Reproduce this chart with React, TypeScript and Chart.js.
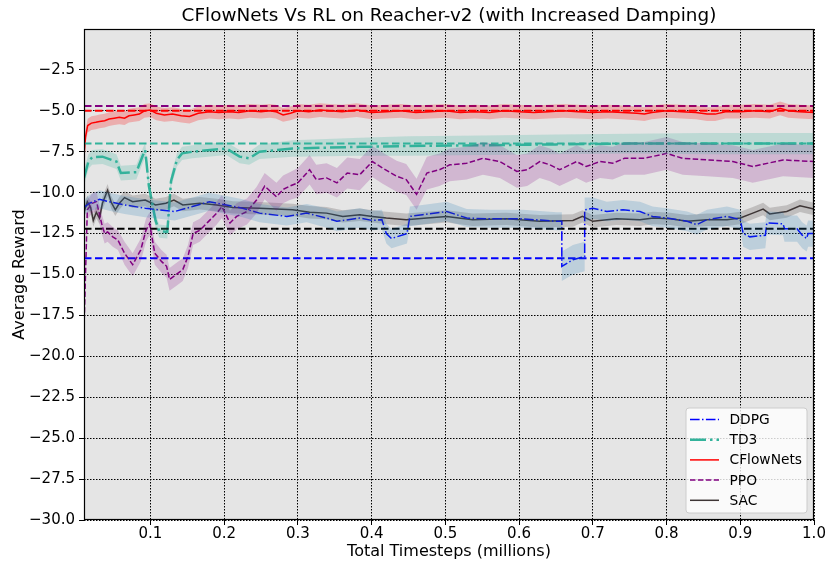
import React, { useEffect, useRef } from "react";
import { Chart, registerables } from "chart.js";

Chart.register(...registerables);

const FONT = "'DejaVu Sans', sans-serif";

const titleText = "CFlowNets Vs RL on Reacher-v2 (with Increased Damping)";
const xTitle = "Total Timesteps (millions)";
const yTitle = "Average Reward";

const xTickValues = [0.1, 0.2, 0.3, 0.4, 0.5, 0.6, 0.7, 0.8, 0.9, 1.0];
const yTickValues = [-30, -27.5, -25, -22.5, -20, -17.5, -15, -12.5, -10, -7.5, -5, -2.5];

// DDPG
const ddpgX = [0.01, 0.017, 0.031, 0.044, 0.065, 0.093, 0.112, 0.133, 0.157, 0.18, 0.203, 0.225, 0.248, 0.285, 0.312, 0.339, 0.353, 0.384, 0.401, 0.414, 0.42, 0.427, 0.448, 0.452, 0.469, 0.502, 0.529, 0.56, 0.605, 0.651, 0.658, 0.658, 0.673, 0.689, 0.689, 0.7, 0.719, 0.741, 0.764, 0.781, 0.8, 0.828, 0.841, 0.855, 0.882, 0.9, 0.904, 0.913, 0.934, 0.936, 0.958, 0.96, 0.977, 0.984, 0.99, 0.992, 1.0];
const ddpgY = [-10.9, -10.65, -10.4, -10.55, -10.75, -10.95, -11.05, -11.15, -10.85, -10.55, -10.75, -10.95, -11.25, -11.45, -11.25, -11.55, -11.75, -11.55, -11.7, -11.65, -12.5, -12.8, -12.5, -11.45, -11.35, -11.15, -11.55, -11.6, -11.6, -11.75, -11.75, -14.5, -14.1, -13.9, -11.05, -10.95, -11.15, -11.05, -11.15, -11.45, -11.55, -11.75, -11.95, -11.65, -11.45, -11.65, -12.5, -12.7, -12.6, -11.85, -11.9, -12.2, -12.2, -12.6, -12.8, -12.5, -12.5];
const ddpgSpread = [0.45, 0.5, 0.55, 0.55, 0.55, 0.55, 0.55, 0.55, 0.55, 0.55, 0.55, 0.55, 0.55, 0.55, 0.55, 0.6, 0.6, 0.6, 0.6, 0.6, 0.6, 0.6, 0.6, 0.6, 0.6, 0.6, 0.55, 0.55, 0.55, 0.55, 0.55, 0.9, 0.9, 0.9, 0.75, 0.65, 0.6, 0.6, 0.6, 0.6, 0.6, 0.6, 0.6, 0.6, 0.6, 0.6, 0.8, 0.8, 0.8, 0.7, 0.7, 0.8, 0.8, 0.8, 0.8, 0.8, 0.8];

// TD3
const td3X = [0.01, 0.016, 0.021, 0.035, 0.054, 0.06, 0.081, 0.09, 0.093, 0.098, 0.107, 0.112, 0.123, 0.128, 0.136, 0.143, 0.157, 0.203, 0.221, 0.234, 0.248, 0.293, 0.384, 0.45, 0.55, 0.65, 0.75, 0.85, 0.95, 1.0];
const td3Y = [-9.1, -8.1, -7.84, -7.8, -8.1, -8.8, -8.75, -7.7, -7.4, -9.6, -11.7, -12.35, -12.4, -9.3, -8.0, -7.6, -7.5, -7.3, -7.8, -7.9, -7.5, -7.3, -7.2, -7.15, -7.1, -7.05, -7.0, -7.0, -7.0, -7.0];
const td3Spread = [0.5, 0.45, 0.45, 0.45, 0.45, 0.45, 0.45, 0.45, 0.45, 0.45, 0.4, 0.4, 0.4, 0.4, 0.4, 0.4, 0.4, 0.4, 0.4, 0.4, 0.45, 0.5, 0.55, 0.6, 0.6, 0.6, 0.6, 0.65, 0.65, 0.65];

// CFlowNets
const cflowX = [0.01, 0.012, 0.015, 0.02, 0.026, 0.031, 0.038, 0.044, 0.051, 0.058, 0.065, 0.071, 0.078, 0.085, 0.092, 0.1, 0.108, 0.119, 0.13, 0.142, 0.153, 0.165, 0.18, 0.193, 0.207, 0.22, 0.235, 0.25, 0.262, 0.27, 0.28, 0.29, 0.3, 0.315, 0.33, 0.343, 0.36, 0.38, 0.4, 0.42, 0.44, 0.46, 0.48, 0.5, 0.52, 0.54, 0.56, 0.58, 0.6, 0.62, 0.64, 0.66, 0.68, 0.7, 0.72, 0.74, 0.76, 0.77, 0.78, 0.8, 0.82, 0.84, 0.855, 0.866, 0.88, 0.9, 0.92, 0.94, 0.954, 0.965, 0.98, 1.0];
const cflowY = [-7.8, -6.6, -5.9, -5.75, -5.7, -5.65, -5.6, -5.5, -5.45, -5.4, -5.45, -5.3, -5.25, -5.2, -5.0, -4.95, -5.15, -5.25, -5.2, -5.3, -5.35, -5.15, -5.05, -5.1, -5.05, -5.1, -5.0, -5.05, -5.0, -5.05, -5.25, -5.15, -5.0, -5.05, -4.95, -5.0, -5.05, -4.95, -5.1, -5.05, -5.0, -5.1, -5.05, -5.0, -5.1, -5.05, -5.1, -5.0, -5.05, -5.1, -5.05, -5.0, -5.05, -5.1, -5.05, -5.1, -5.15, -5.2, -5.1, -5.0, -5.05, -5.1, -5.2, -5.2, -5.05, -5.05, -5.0, -5.05, -4.85, -5.0, -5.05, -5.1];
const cflowSpread = 0.42;

// PPO
const ppoX = [0.01, 0.0145, 0.021, 0.027, 0.034, 0.038, 0.042, 0.049, 0.056, 0.065, 0.076, 0.087, 0.094, 0.099, 0.106, 0.115, 0.122, 0.126, 0.135, 0.144, 0.151, 0.158, 0.167, 0.178, 0.19, 0.197, 0.208, 0.217, 0.231, 0.244, 0.255, 0.271, 0.28, 0.289, 0.3, 0.316, 0.325, 0.339, 0.353, 0.367, 0.384, 0.401, 0.415, 0.434, 0.447, 0.461, 0.475, 0.492, 0.506, 0.529, 0.551, 0.574, 0.597, 0.611, 0.628, 0.642, 0.655, 0.678, 0.691, 0.71, 0.727, 0.743, 0.77, 0.8, 0.822, 0.855, 0.89, 0.917, 0.958, 1.0];
const ppoY = [-18.3, -11.05, -10.65, -10.55, -11.9, -12.5, -12.4, -12.7, -12.9, -13.7, -14.4, -13.5, -12.3, -11.9, -13.7, -14.2, -14.5, -15.3, -15.0, -14.7, -13.9, -12.5, -12.3, -11.8, -11.25, -10.85, -11.85, -11.45, -11.15, -10.45, -9.6, -10.25, -9.8, -9.6, -9.4, -8.6, -9.2, -9.1, -9.4, -8.8, -8.9, -8.1, -8.5, -9.0, -9.2, -10.1, -8.8, -8.6, -8.3, -8.2, -7.9, -8.1, -8.7, -8.6, -8.1, -8.3, -8.6, -8.1, -8.4, -8.1, -8.2, -7.9, -7.9, -7.6, -7.9, -8.0, -8.1, -8.4, -8.0, -8.1];
const ppoSpread = [0.3, 0.6, 0.6, 0.6, 0.6, 0.6, 0.6, 0.6, 0.6, 0.7, 0.7, 0.7, 0.7, 0.7, 0.7, 0.7, 0.7, 0.7, 0.7, 0.7, 0.7, 0.7, 0.7, 0.7, 0.7, 0.7, 0.75, 0.8, 0.8, 0.8, 0.8, 0.85, 0.85, 0.85, 0.9, 0.9, 0.9, 0.9, 0.9, 0.95, 0.95, 0.95, 0.95, 0.95, 0.95, 0.95, 1.0, 1.0, 1.0, 1.0, 1.0, 1.0, 1.0, 1.0, 1.0, 1.0, 1.0, 1.0, 1.0, 1.0, 1.0, 1.0, 1.0, 1.0, 1.0, 1.0, 1.0, 1.0, 1.0, 1.0];

// SAC
const sacX = [0.01, 0.0145, 0.019, 0.0226, 0.0267, 0.031, 0.035, 0.042, 0.047, 0.0525, 0.058, 0.065, 0.076, 0.093, 0.107, 0.121, 0.132, 0.144, 0.167, 0.19, 0.212, 0.248, 0.293, 0.316, 0.339, 0.361, 0.384, 0.401, 0.42, 0.447, 0.475, 0.502, 0.537, 0.583, 0.628, 0.673, 0.686, 0.7, 0.732, 0.764, 0.782, 0.805, 0.828, 0.855, 0.882, 0.9, 0.917, 0.931, 0.94, 0.963, 0.981, 1.0];
const sacY = [-11.2, -10.55, -10.9, -11.7, -11.2, -11.55, -10.65, -9.85, -10.6, -11.05, -10.65, -10.3, -10.55, -10.45, -10.75, -10.65, -10.45, -10.75, -10.65, -10.75, -10.9, -10.95, -11.05, -11.2, -11.25, -11.45, -11.35, -11.45, -11.55, -11.65, -11.55, -11.45, -11.65, -11.6, -11.75, -11.7, -11.45, -11.75, -11.6, -11.65, -11.55, -11.6, -11.75, -11.65, -11.65, -11.55, -11.25, -11.0, -11.3, -11.15, -10.8, -11.0];
const sacSpread = 0.38;

// Horizontal reference levels
const refLevels = [-4.7, -5.0, -7.0, -12.2, -14.0];
const refColors = ["#800080", "#ff0000", "#33b39b", "#000000", "#0000ff"];

const pts = (xs: number[], ys: number[], off: (i: number) => number = () => 0) =>
  xs.map((x, i) => ({ x, y: ys[i] + off(i) }));

const bgPlugin = {
  id: "bgPlugin",
  beforeDraw(chart: any) {
    const { ctx, chartArea: a } = chart;
    ctx.save();
    ctx.fillStyle = "#ffffff";
    ctx.fillRect(0, 0, chart.width, chart.height);
    ctx.fillStyle = "#e5e5e5";
    ctx.fillRect(a.left, a.top, a.right - a.left, a.bottom - a.top);
    ctx.restore();
  },
  afterDatasetsDraw(chart: any) {
    const { ctx, chartArea: a } = chart;
    ctx.save();
    ctx.strokeStyle = "#000";
    ctx.lineWidth = 1.2;
    ctx.setLineDash([]);
    ctx.strokeRect(a.left + 0.5, a.top + 0.5, a.right - a.left - 1, a.bottom - a.top - 1);
    // title centred over the plot area
    ctx.fillStyle = "#000";
    ctx.font = `18.4px ${FONT}`;
    ctx.textAlign = "center";
    ctx.textBaseline = "middle";
    ctx.fillText(titleText, (a.left + a.right) / 2, 16);
    ctx.restore();
  },
};

const legendItems = [
  { label: "DDPG", color: "#0000ff", dash: [9.6, 2.4, 1.5, 2.4], width: 1.5 },
  { label: "TD3", color: "#33b39b", dash: [16, 4, 2.5, 4], width: 2.5 },
  { label: "CFlowNets", color: "#ff0000", dash: [], width: 1.5 },
  { label: "PPO", color: "#800080", dash: [5.5, 2.4], width: 1.5 },
  { label: "SAC", color: "#3e3636", dash: [], width: 1.5 },
];

const legendPlugin = {
  id: "customLegend",
  afterDraw(chart: any) {
    const { ctx, chartArea: a } = chart;
    const w = 121;
    const h = 105;
    const x0 = a.right - 7 - w;
    const y0 = a.bottom - 7 - h;
    const r = 3;
    ctx.save();
    ctx.beginPath();
    ctx.moveTo(x0 + r, y0);
    ctx.lineTo(x0 + w - r, y0);
    ctx.arcTo(x0 + w, y0, x0 + w, y0 + r, r);
    ctx.lineTo(x0 + w, y0 + h - r);
    ctx.arcTo(x0 + w, y0 + h, x0 + w - r, y0 + h, r);
    ctx.lineTo(x0 + r, y0 + h);
    ctx.arcTo(x0, y0 + h, x0, y0 + h - r, r);
    ctx.lineTo(x0, y0 + r);
    ctx.arcTo(x0, y0, x0 + r, y0, r);
    ctx.closePath();
    ctx.fillStyle = "rgba(255,255,255,0.8)";
    ctx.fill();
    ctx.strokeStyle = "#cccccc";
    ctx.lineWidth = 1;
    ctx.stroke();
    ctx.font = `13.8px ${FONT}`;
    ctx.textBaseline = "middle";
    ctx.textAlign = "left";
    legendItems.forEach((it, i) => {
      const cy = y0 + 11.5 + i * 20.2;
      ctx.beginPath();
      ctx.setLineDash(it.dash);
      ctx.strokeStyle = it.color;
      ctx.lineWidth = it.width;
      ctx.moveTo(x0 + 4, cy);
      ctx.lineTo(x0 + 33, cy);
      ctx.stroke();
      ctx.setLineDash([]);
      ctx.fillStyle = "#000";
      ctx.fillText(it.label, x0 + 43.5, cy + 1);
    });
    ctx.restore();
  },
};

export default function App() {
  const ref = useRef<HTMLCanvasElement>(null);

  useEffect(() => {
    if (!ref.current) return;
    const series = [
      { xs: ddpgX, ys: ddpgY, sp: (i: number) => ddpgSpread[i], band: "rgba(31,119,180,0.2)" },
      { xs: td3X, ys: td3Y, sp: (i: number) => td3Spread[i], band: "rgba(51,179,155,0.22)" },
      { xs: cflowX, ys: cflowY, sp: () => cflowSpread, band: "rgba(255,0,0,0.24)" },
      { xs: ppoX, ys: ppoY, sp: (i: number) => ppoSpread[i], band: "rgba(128,0,128,0.2)" },
      { xs: sacX, ys: sacY, sp: () => sacSpread, band: "rgba(62,54,54,0.22)" },
    ];
    const datasets: any[] = [];
    series.forEach((s) => {
      datasets.push({
        data: pts(s.xs, s.ys, (i) => s.sp(i)),
        borderWidth: 0,
        borderColor: "rgba(0,0,0,0)",
        pointRadius: 0,
        fill: false,
      });
      datasets.push({
        data: pts(s.xs, s.ys, (i) => -s.sp(i)),
        borderWidth: 0,
        borderColor: "rgba(0,0,0,0)",
        pointRadius: 0,
        fill: "-1",
        backgroundColor: s.band,
      });
    });
    refLevels.forEach((lv, i) => {
      datasets.push({
        data: [
          { x: 0.01, y: lv },
          { x: 1.0, y: lv },
        ],
        borderColor: refColors[i],
        borderWidth: 2,
        borderDash: [7.5, 3.5],
        pointRadius: 0,
        fill: false,
      });
    });
    series.forEach((s, i) => {
      const it = legendItems[i];
      datasets.push({
        label: it.label,
        data: pts(s.xs, s.ys),
        borderColor: it.color,
        borderWidth: it.width,
        borderDash: it.dash,
        pointRadius: 0,
        fill: false,
      });
    });

    const tickFont = { family: FONT, size: 15 };
    const gridOpts = {
      color: "#000",
      lineWidth: 1,
      borderDash: [1.5, 1.5],
      tickLength: 5,
      tickColor: "#000",
      tickWidth: 1,
      tickBorderDash: [1, 0],
    };
    const chart = new Chart(ref.current, {
      type: "line",
      data: { datasets },
      options: {
        animation: false,
        responsive: false,
        devicePixelRatio: 1,
        events: [],
        layout: { padding: { left: 0, right: 13, top: 29, bottom: 0 } },
        elements: { line: { tension: 0 } },
        plugins: {
          legend: { display: false },
          tooltip: { enabled: false },
          title: { display: false },
        },
        scales: {
          x: {
            type: "linear",
            min: 0.01,
            max: 1.0,
            afterBuildTicks: (scale: any) => {
              scale.ticks = xTickValues.map((v) => ({ value: v }));
            },
            afterFit: (scale: any) => {
              scale.height = 48;
            },
            ticks: {
              color: "#000",
              font: tickFont,
              padding: 0,
              maxRotation: 0,
              autoSkip: false,
              callback: (v: any) => Number(v).toFixed(1),
            },
            grid: gridOpts,
            border: { display: false, dash: [1.5, 1.5] },
            title: {
              display: true,
              text: xTitle,
              color: "#000",
              font: { family: FONT, size: 16 },
              padding: { top: 0, bottom: 6.4 },
            },
          },
          y: {
            type: "linear",
            min: -30,
            max: 0,
            afterBuildTicks: (scale: any) => {
              scale.ticks = yTickValues.map((v) => ({ value: v }));
            },
            afterFit: (scale: any) => {
              scale.width = 84;
            },
            ticks: {
              color: "#000",
              font: tickFont,
              padding: 4,
              autoSkip: false,
              callback: (v: any) => (Number(v) < 0 ? "\u2212" : "") + Math.abs(Number(v)).toFixed(1),
            },
            grid: gridOpts,
            border: { display: false, dash: [1.5, 1.5] },
            title: {
              display: true,
              text: yTitle,
              color: "#000",
              font: { family: FONT, size: 16 },
              padding: { top: 10.4, bottom: 0 },
            },
          },
        },
      },
      plugins: [bgPlugin, legendPlugin],
    } as any);
    return () => chart.destroy();
  }, []);

  return (
    <div style={{ position: "absolute", left: 0, top: 0, width: 827, height: 568, background: "#fff" }}>
      <canvas ref={ref} width={827} height={568} style={{ width: 827, height: 568, display: "block" }} />
    </div>
  );
}
